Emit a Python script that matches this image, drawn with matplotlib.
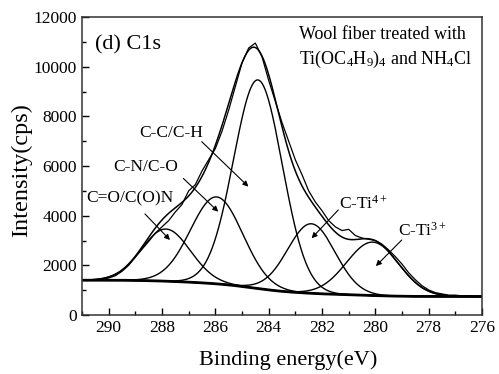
import numpy as np
import matplotlib
matplotlib.use("Agg")
import matplotlib.pyplot as plt
from matplotlib.ticker import MultipleLocator

plt.rcParams['font.family'] = ['Liberation Serif', 'DejaVu Serif']
plt.rcParams['mathtext.fontset'] = 'custom'
plt.rcParams['mathtext.rm'] = 'Liberation Serif'
plt.rcParams['mathtext.it'] = 'Liberation Serif'

# Fitted components: label, centre (eV), height above background (cps), FWHM (eV)
peak_labels = ["C=O/C(O)N", "C-N/C-O", "C-C/C-H", "C-Ti$^{4+}$", "C-Ti$^{3+}$"]
peak_centers = [287.85, 285.95, 284.40, 282.40, 280.10]
peak_heights = [2100, 3500, 8400, 2800, 2150]
peak_fwhm = [2.15, 2.30, 2.15, 2.10, 2.30]

# Background end levels (cps)
bg_high = 1400
bg_low = 745

raw_energy = [291.0, 290.75, 290.5, 290.25, 290.0, 289.75, 289.5, 289.25, 289.0, 288.75,
              288.5, 288.25, 288.0, 287.75, 287.5, 287.25, 287.0, 286.75, 286.5, 286.25,
              286.0, 285.75, 285.5, 285.25, 285.0, 284.75, 284.5, 284.25, 284.0, 283.75,
              283.5, 283.25, 283.0, 282.75, 282.5, 282.25, 282.0, 281.75, 281.5, 281.25,
              281.0, 280.75, 280.5, 280.25, 280.0, 279.75, 279.5, 279.25, 279.0, 278.75,
              278.5, 278.25, 278.0, 277.75, 277.5, 277.25, 277.0, 276.75, 276.5]
raw_counts = [1400, 1390, 1420, 1440, 1490, 1580, 1760, 2000, 2330, 2650,
              2960, 3300, 3550, 3800, 4150, 4450, 5000, 5250, 5800, 6250,
              6700, 7400, 8250, 9200, 10150, 10750, 10950, 10400, 9450, 8600,
              7750, 7000, 6250, 5650, 5000, 4550, 4200, 3800, 3550, 3400,
              3450, 3200, 3100, 3050, 3000, 2850, 2620, 2350, 2050, 1700,
              1420, 1180, 1010, 900, 850, 800, 800, 770, 760]

# Label/arrow placement (data coords)
label_xy = [(289.2, 4520), (288.6, 5810), (287.65, 7180), (281.35, 4300), (279.14, 3180)]
arrow_from = [(288.64, 4070), (287.20, 5500), (286.51, 6980), (281.39, 4230), (279.01, 3020)]
arrow_to = [(287.70, 3020), (285.89, 4160), (284.76, 5170), (282.39, 3090), (279.98, 1970)]
label_ha = ["center", "center", "center", "left", "left"]

E = np.linspace(276, 291, 1201)
comps = []
for c, h, w in zip(peak_centers, peak_heights, peak_fwhm):
    s = w / (2 * np.sqrt(2 * np.log(2)))
    comps.append(h * np.exp(-(E - c) ** 2 / (2 * s ** 2)))
total = np.sum(comps, axis=0)
cum = np.cumsum(total)
bg = bg_low + (bg_high - bg_low) * cum / cum[-1]

fig = plt.figure(figsize=(4.99, 3.74), dpi=100)
ax = fig.add_axes([82 / 499, 59 / 374, 400 / 499, 298 / 374])

ax.plot(raw_energy, raw_counts, color='black', lw=0.9)
ax.plot(E, total + bg, color='black', lw=1.1)
for comp in comps:
    ax.plot(E, comp + bg, color='black', lw=1.0)
ax.plot(E, bg, color='black', lw=2.0)

for lab, (tx, ty), (fx, fy), (hx, hy), ha in zip(peak_labels, label_xy, arrow_from, arrow_to, label_ha):
    ax.text(tx, ty, lab, ha=ha, va='baseline', fontsize=12.5)
    ax.annotate('', xy=(hx, hy), xytext=(fx, fy),
                arrowprops=dict(arrowstyle='-|>', color='black', lw=0.8,
                                mutation_scale=8, shrinkA=0, shrinkB=0))

ax.text(290.51, 10700, "(d) C1s", ha='left', va='baseline', fontsize=16)
ax.text(282.85, 11100, "Wool fiber treated with", ha='left', va='baseline', fontsize=13)
ax.text(282.85, 10110, "Ti(OC$_4$H$_9$)$_4$ and NH$_4$Cl", ha='left', va='baseline', fontsize=13)

ax.set_xlim(291, 276)
ax.set_ylim(0, 12000)
ax.xaxis.set_major_locator(MultipleLocator(2))
ax.xaxis.set_minor_locator(MultipleLocator(1))
ax.yaxis.set_major_locator(MultipleLocator(2000))
ax.yaxis.set_minor_locator(MultipleLocator(1000))
ax.tick_params(which='both', direction='in', top=False, right=False, labelsize=12.5, width=1.0)
ax.tick_params(which='major', length=5)
ax.tick_params(which='minor', length=3)
for sp in ax.spines.values():
    sp.set_linewidth(1.1)
    sp.set_color('#333333')

ax.set_xlabel("Binding energy(eV)", fontsize=16)
ax.set_ylabel("Intensity(cps)", fontsize=17.5)
ax.xaxis.set_label_coords(0.515, -0.118)
ax.yaxis.set_label_coords(-0.125, 0.487)

fig.savefig("out.png", dpi=100)
